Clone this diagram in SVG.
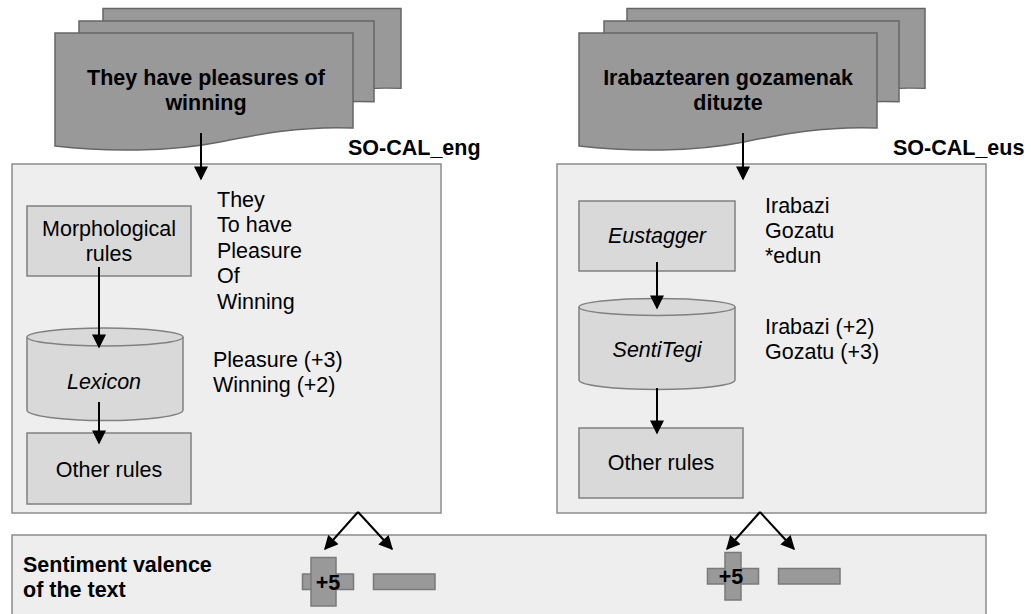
<svg xmlns="http://www.w3.org/2000/svg" width="1031" height="614" viewBox="0 0 1031 614">
  <style>
    text { font-family: "Liberation Sans", Arial, sans-serif; font-size: 21.5px; fill: #000; }
    .b { font-weight: bold; }
    .i { font-style: italic; }
    .mid { text-anchor: middle; }
    .panel { fill: #eeeeee; stroke: #8c8c8c; stroke-width: 1.5; }
    .box { fill: #d9d9d9; stroke: #808080; stroke-width: 1.5; }
    .doc { fill: #999999; stroke: #666666; stroke-width: 1.5; }
    .bar { fill: #999999; stroke: #7a7a7a; stroke-width: 1.5; }
    .conn { stroke: #000; stroke-width: 2; fill: none; marker-end: url(#arrow); }
  </style>
  <defs>
    <marker id="arrow" viewBox="0 0 10 10" refX="9" refY="5" markerWidth="7.5" markerHeight="7" markerUnits="strokeWidth" orient="auto">
      <path d="M0,0 L10,5 L0,10 z" fill="#000"/>
    </marker>
    <path id="docshape" d="M0,0 H298 V95 C245,93 205,101 165,109 C115,119 50,119 0,113 Z"/>
  </defs>

  <!-- input documents (English) -->
  <g id="doc-eng">
    <use href="#docshape" class="doc" transform="translate(103,8.5) scale(1,0.84)"/>
    <use href="#docshape" class="doc" transform="translate(79,21) scale(0.99,0.85)"/>
    <use href="#docshape" class="doc" transform="translate(55,33)"/>
    <text class="b mid" x="206" y="85">They have pleasures of</text>
    <text class="b mid" x="206" y="110">winning</text>
  </g>

  <!-- input documents (Basque) -->
  <g id="doc-eus">
    <use href="#docshape" class="doc" transform="translate(627,8.5) scale(1,0.84)"/>
    <use href="#docshape" class="doc" transform="translate(604,21) scale(0.99,0.85)"/>
    <use href="#docshape" class="doc" transform="translate(579,33)"/>
    <text class="b mid" x="728" y="85">Irabaztearen gozamenak</text>
    <text class="b mid" x="728" y="110">dituzte</text>
  </g>

  <text class="b" x="348" y="155">SO-CAL_eng</text>
  <text class="b" x="893" y="155">SO-CAL_eus</text>

  <!-- English pipeline -->
  <g id="panel-eng">
    <rect class="panel" x="12" y="164" width="429" height="349"/>
    <text x="217" y="207">They</text>
    <text x="217" y="232">To have</text>
    <text x="217" y="257.5">Pleasure</text>
    <text x="217" y="283">Of</text>
    <text x="217" y="308.5">Winning</text>
    <text x="213" y="367">Pleasure (+3)</text>
    <text x="213" y="392">Winning (+2)</text>
  </g>
  <g id="morph-rules">
    <rect class="box" x="27" y="206" width="164" height="70"/>
    <text class="mid" x="109" y="236">Morphological</text>
    <text class="mid" x="109" y="261">rules</text>
  </g>
  <g id="lexicon">
    <path class="box" d="M27,337 V410 A78,10.5 0 0 0 183,410 V337"/>
    <ellipse class="box" cx="105" cy="337" rx="78" ry="9"/>
    <text class="i mid" x="104" y="389">Lexicon</text>
  </g>
  <g id="other-eng">
    <rect class="box" x="27" y="433" width="164" height="71"/>
    <text class="mid" x="109" y="477">Other rules</text>
  </g>

  <!-- Basque pipeline -->
  <g id="panel-eus">
    <rect class="panel" x="557" y="164" width="429" height="349"/>
    <text x="765" y="212.5">Irabazi</text>
    <text x="765" y="238">Gozatu</text>
    <text x="765" y="263">*edun</text>
    <text x="765" y="333.5">Irabazi (+2)</text>
    <text x="765" y="358.5">Gozatu (+3)</text>
  </g>
  <g id="eustagger">
    <rect class="box" x="579" y="201" width="156" height="70"/>
    <text class="i mid" x="657" y="243">Eustagger</text>
  </g>
  <g id="sentitegi">
    <path class="box" d="M579,307 V380 A78,9.5 0 0 0 735,380 V307"/>
    <ellipse class="box" cx="657" cy="307" rx="78" ry="8.5"/>
    <text class="i mid" x="657" y="357">SentiTegi</text>
  </g>
  <g id="other-eus">
    <rect class="box" x="579" y="428" width="164" height="70"/>
    <text class="mid" x="661" y="470">Other rules</text>
  </g>

  <!-- result -->
  <g id="valence">
    <rect class="panel" x="12" y="535" width="974" height="90"/>
    <text class="b" x="23" y="572">Sentiment valence</text>
    <text class="b" x="23" y="597">of the text</text>
  </g>
  <g id="score-eng">
    <rect class="bar" x="302.5" y="574" width="51" height="15.5"/>
    <rect class="bar" x="311" y="557.5" width="25" height="48.5"/>
    <text class="b mid" x="328" y="589.5">+5</text>
    <rect class="bar" x="373.5" y="574" width="61.5" height="15.5"/>
  </g>
  <g id="score-eus">
    <rect class="bar" x="707.5" y="568.5" width="51" height="15.5"/>
    <rect class="bar" x="725" y="552.5" width="16" height="47.5"/>
    <text class="b mid" x="731" y="584">+5</text>
    <rect class="bar" x="778.5" y="568.5" width="61.5" height="15.5"/>
  </g>

  <!-- connectors -->
  <g id="connectors">
    <line class="conn" x1="201" y1="133" x2="201" y2="179"/>
    <line class="conn" x1="99" y1="267" x2="99" y2="347"/>
    <line class="conn" x1="99" y1="402" x2="99" y2="443"/>
    <line class="conn" x1="743" y1="133" x2="743" y2="179"/>
    <line class="conn" x1="657" y1="262" x2="657" y2="308"/>
    <line class="conn" x1="657" y1="388" x2="657" y2="433"/>
    <polyline class="conn" points="358,512 325,549"/>
    <polyline class="conn" points="358,512 392,549"/>
    <polyline class="conn" points="760,512 727,549"/>
    <polyline class="conn" points="760,512 794,549"/>
  </g>
</svg>
